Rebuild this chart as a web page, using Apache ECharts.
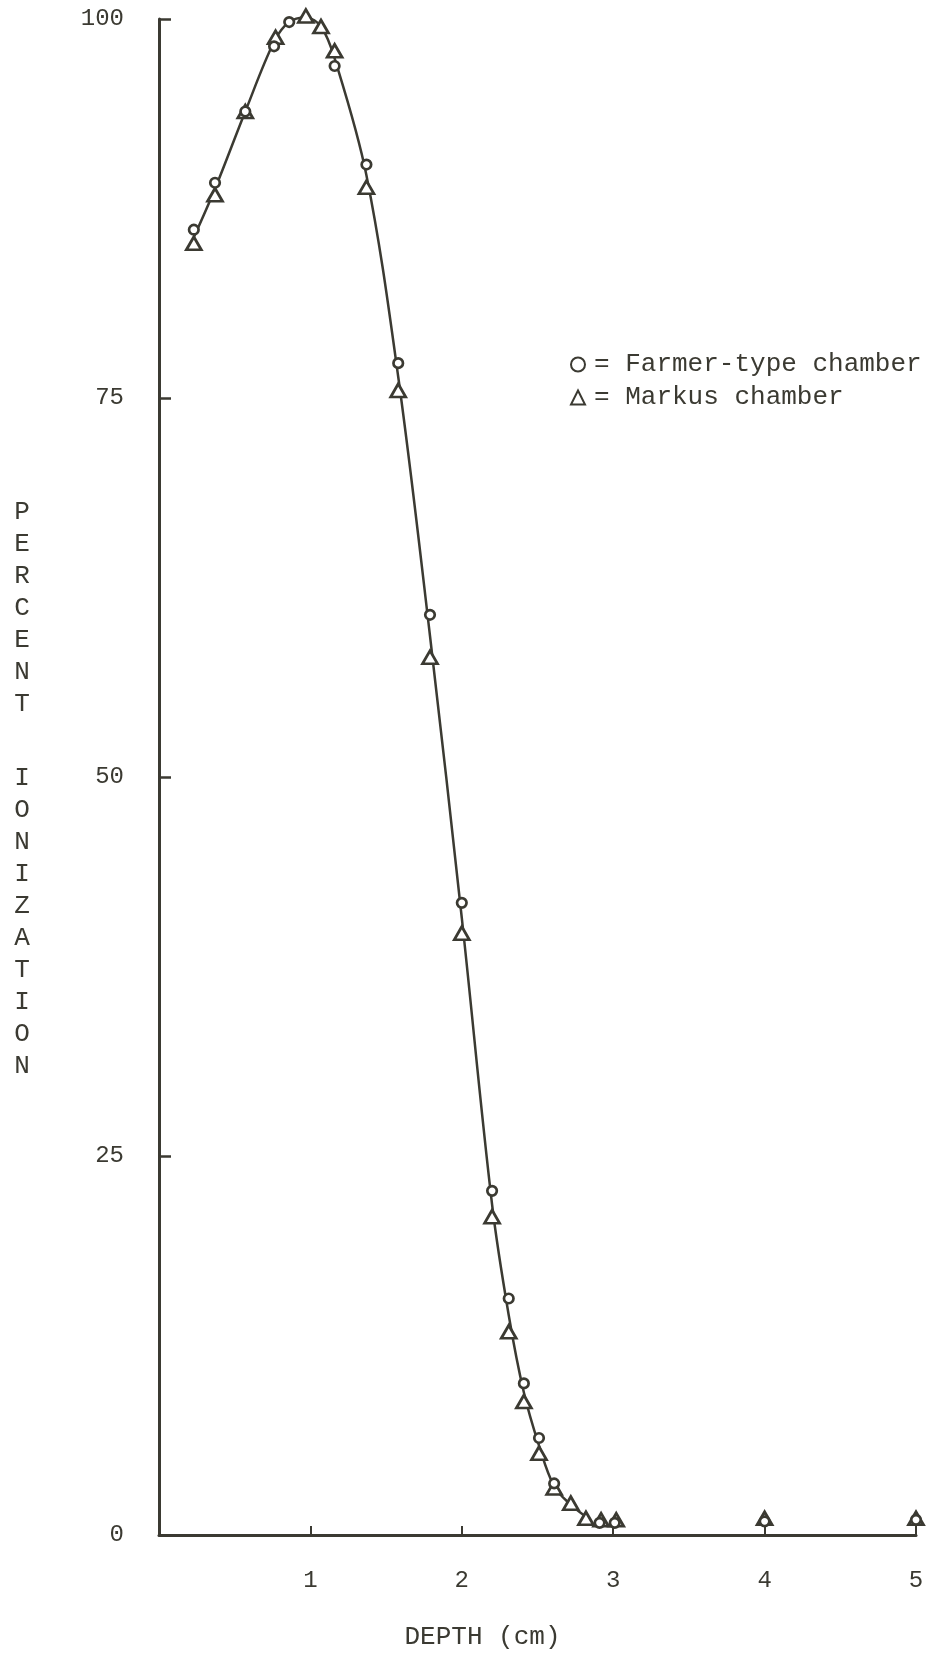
<!DOCTYPE html>
<html>
<head>
<meta charset="utf-8">
<script src="https://cdn.jsdelivr.net/npm/echarts@6/dist/echarts.min.js"></script>
<style>
html,body{margin:0;padding:0;background:#fff;}
#chart{width:934px;height:1655px;}
</style>
</head>
<body>
<div id="chart"></div>
<script>
// Farmer-type chamber (circles)
var farmerDepth = [0.23, 0.37, 0.57, 0.76, 0.86, 1.16, 1.37, 1.58, 1.79, 2.0, 2.2, 2.31, 2.41, 2.51, 2.61, 2.91, 3.01, 4.0, 5.0];
var farmerPct   = [86.1, 89.2, 93.9, 98.2, 99.8, 96.9, 90.4, 77.3, 60.7, 41.7, 22.7, 15.6, 10.0, 6.4, 3.4, 0.8, 0.8, 0.9, 1.0];
// Markus chamber (triangles)
var markusDepth = [0.23, 0.37, 0.57, 0.77, 0.97, 1.07, 1.16, 1.37, 1.58, 1.79, 2.0, 2.2, 2.31, 2.41, 2.51, 2.61, 2.72, 2.82, 2.92, 3.02, 4.0, 5.0];
var markusPct   = [85.2, 88.4, 93.9, 98.8, 100.2, 99.5, 97.9, 88.9, 75.5, 57.9, 39.7, 21.0, 13.4, 8.8, 5.4, 3.1, 2.1, 1.1, 1.0, 1.0, 1.1, 1.1];
// hand-drawn curve through the points
var curveDepth = [0.23, 0.37, 0.57, 0.76, 0.86, 0.97, 1.07, 1.16, 1.37, 1.58, 1.79, 2.0, 2.2, 2.31, 2.41, 2.51, 2.61, 2.72, 2.82];
var curvePct   = [85.6, 88.8, 93.9, 98.5, 99.8, 100.1, 99.5, 97.4, 89.7, 76.4, 59.3, 40.7, 21.8, 14.5, 9.4, 5.9, 3.2, 2.0, 1.2];
// axis ticks / labels
var xTicks = ['', '1', '2', '3', '4', '5'];
var yTicks = ['0', '25', '50', '75', '100'];
var yTitleTop = ['P','E','R','C','E','N','T'];
var yTitleBottom = ['I','O','N','I','Z','A','T','I','O','N'];

var ink = '#3b3a32';
var mono = '"Liberation Mono", "DejaVu Sans Mono", monospace';

function pairs(xs, ys) { return xs.map(function (x, i) { return [x, ys[i]]; }); }

var chart = echarts.init(document.getElementById('chart'), null, {renderer: 'canvas'});
chart.setOption({
  backgroundColor: '#ffffff',
  animation: false,
  grid: {left: 159, right: 18, top: 19, bottom: 113, containLabel: false},
  legend: {
    orient: 'vertical',
    left: 565, top: 343,
    itemWidth: 14, itemHeight: 14, itemGap: 0,
    data: ['Farmer-type chamber', 'Markus chamber'],
    formatter: function (n) { return '= ' + n; },
    textStyle: {fontFamily: mono, fontSize: 26, color: ink, lineHeight: 33, padding: [0, 0, 0, 4]}
  },
  xAxis: {
    type: 'value', min: 0, max: 5, interval: 1,
    name: 'DEPTH (cm)', nameLocation: 'middle', nameGap: 89,
    nameTextStyle: {fontFamily: mono, fontSize: 26, color: ink, padding: [0, 110, 0, 0]},
    axisLine: {lineStyle: {color: ink, width: 3}},
    axisTick: {inside: true, length: 9, lineStyle: {color: ink, width: 2}},
    axisLabel: {fontFamily: mono, fontSize: 24, color: ink, margin: 34,
      formatter: function (v) { return xTicks[Math.round(v)]; }},
    splitLine: {show: false}
  },
  yAxis: {
    type: 'value', min: 0, max: 100, interval: 25,
    name: yTitleTop.join('\n') + '\n{g| }\n' + yTitleBottom.join('\n'),
    nameLocation: 'middle', nameRotate: 0, nameGap: 137,
    nameTextStyle: {fontFamily: mono, fontSize: 26, color: ink, lineHeight: 32,
      align: 'center', verticalAlign: 'middle', padding: [25, 0, 0, 0],
      rich: {g: {lineHeight: 42, fontSize: 26, fontFamily: mono}}},
    axisLine: {show: true, lineStyle: {color: ink, width: 3}},
    axisTick: {show: true, inside: true, length: 12, lineStyle: {color: ink, width: 2.5}},
    axisLabel: {fontFamily: mono, fontSize: 24, color: ink, margin: 35, align: 'right',
      formatter: function (v) { return yTicks[Math.round(v / 25)]; }},
    splitLine: {show: false}
  },
  series: [
    {
      name: 'curve', type: 'line', smooth: 0.35, showSymbol: false, silent: true, clip: false,
      data: pairs(curveDepth, curvePct),
      lineStyle: {color: ink, width: 2.5}, z: 1
    },
    {
      name: 'Markus chamber', type: 'scatter', symbol: 'triangle', symbolSize: [15, 13], clip: false,
      data: pairs(markusDepth, markusPct),
      itemStyle: {color: '#ffffff', borderColor: ink, borderWidth: 2.7, opacity: 1}, z: 2
    },
    {
      name: 'Farmer-type chamber', type: 'scatter', symbol: 'circle', symbolSize: 9.5, clip: false,
      data: pairs(farmerDepth, farmerPct),
      itemStyle: {color: '#ffffff', borderColor: ink, borderWidth: 2.7, opacity: 1}, z: 3
    }
  ]
});
</script>
</body>
</html>
